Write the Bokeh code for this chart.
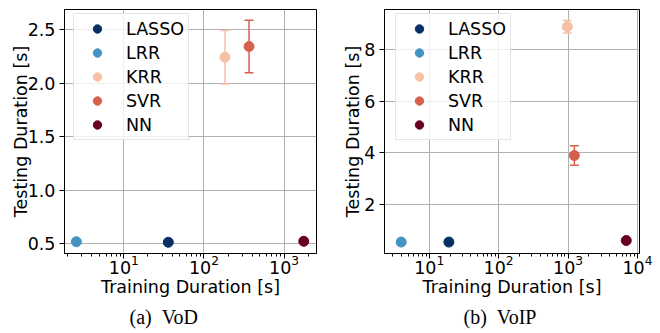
from bokeh.plotting import figure
from bokeh.layouts import row
from bokeh.models import (ColumnDataSource, Whisker, TeeHead, FixedTicker,
                          LogTicker, Title, PrintfTickFormatter)
from bokeh.embed import file_html
from bokeh.resources import INLINE

models = ["LASSO", "LRR", "KRR", "SVR", "NN"]
colors = ["#053061", "#4393c3", "#f7c0a4", "#d6604d", "#67001f"]

vod_train = [35.9, 2.56, 183, 365, 1758]
vod_test = [0.515, 0.52, 2.244, 2.344, 0.524]
vod_err = [0.0, 0.0, 0.25, 0.246, 0.0]

voip_train = [19.2, 3.95, 977, 1233, 6900]
voip_test = [0.54, 0.54, 8.9, 3.9, 0.6]
voip_err = [0.0, 0.0, 0.24, 0.38, 0.0]

vod_yticks = [0.5, 1.0, 1.5, 2.0, 2.5]
voip_yticks = [2, 4, 6, 8]

FONT = "DejaVu Sans"
FS = "17.5px"


def make(train, test, err, xr, yr, yticks, yfmt, caption, cap_off,
         bl, br, width, leg_x, ylab_standoff):
    p = figure(width=width, height=333, x_axis_type="log",
               x_range=xr, y_range=yr, output_backend="svg",
               toolbar_location=None, min_border_left=bl,
               min_border_right=br, min_border_top=9, min_border_bottom=80)
    p.outline_line_color = "black"
    p.outline_line_width = 1
    p.background_fill_color = "white"
    p.border_fill_color = "white"

    for ax in (p.xaxis[0], p.yaxis[0]):
        ax.axis_line_color = "black"
        ax.major_tick_line_color = "black"
        ax.minor_tick_line_color = "black"
        ax.major_tick_out = 5
        ax.major_tick_in = 0
        ax.minor_tick_out = 3
        ax.minor_tick_in = 0
        ax.major_label_text_font = FONT
        ax.major_label_text_font_size = FS
        ax.major_label_text_color = "black"
        ax.axis_label_text_font = FONT
        ax.axis_label_text_font_size = FS
        ax.axis_label_text_font_style = "normal"
        ax.axis_label_text_color = "black"

    p.xaxis.axis_label = "Training Duration [s]"
    p.yaxis.axis_label = "Testing Duration [s]"
    p.yaxis.ticker = FixedTicker(ticks=yticks)
    p.yaxis.formatter = PrintfTickFormatter(format=yfmt)
    p.yaxis.major_label_standoff = 4
    p.yaxis.axis_label_standoff = ylab_standoff
    p.xaxis.major_label_standoff = -4
    p.xaxis.axis_label_standoff = 0
    p.xaxis.ticker = LogTicker(num_minor_ticks=10)

    p.xgrid.grid_line_color = "#b0b0b0"
    p.ygrid.grid_line_color = "#b0b0b0"
    p.xgrid.grid_line_width = 1
    p.ygrid.grid_line_width = 1
    p.ygrid.ticker = FixedTicker(ticks=yticks)

    for i, m in enumerate(models):
        if err[i] > 0:
            src = ColumnDataSource(dict(base=[train[i]],
                                        lower=[test[i] - err[i]],
                                        upper=[test[i] + err[i]]))
            w = Whisker(source=src, base="base", lower="lower", upper="upper",
                        dimension="height", line_color=colors[i],
                        line_width=1.5,
                        upper_head=TeeHead(size=9, line_color=colors[i], line_width=1.5),
                        lower_head=TeeHead(size=9, line_color=colors[i], line_width=1.5))
            p.add_layout(w)
        p.scatter([train[i]], [test[i]], size=10, color=colors[i],
                  legend_label=m)

    lg = p.legend[0]
    lg.location = (leg_x, 113)
    lg.padding = 4
    lg.spacing = 3
    lg.glyph_width = 38
    lg.glyph_height = 21
    lg.label_standoff = 10
    lg.label_text_font = FONT
    lg.label_text_font_size = FS
    lg.label_text_color = "black"
    lg.border_line_color = "#cccccc"
    lg.border_line_width = 1
    lg.background_fill_color = "white"
    lg.background_fill_alpha = 0.8
    lg.margin = 0

    cap = Title(text=caption, align="left", offset=cap_off, standoff=9,
                text_font="Liberation Serif", text_font_size="20px",
                text_font_style="normal", text_color="black")
    p.add_layout(cap, "below")
    return p


p1 = make(vod_train, vod_test, vod_err, (1.82, 2535), (0.41, 2.69),
          vod_yticks, "%.1f", "(a)\u00a0\u00a0VoD", 65, 64, 14, 330, 9, -6)
p2 = make(voip_train, voip_test, voip_err, (2.27, 10700), (0.097, 9.57),
          voip_yticks, "%d", "(b)\u00a0\u00a0VoIP", 79, 54, 21, 330, 11, -2)

layout = row(p1, p2)
open("out.html", "w").write(file_html(layout, INLINE))
